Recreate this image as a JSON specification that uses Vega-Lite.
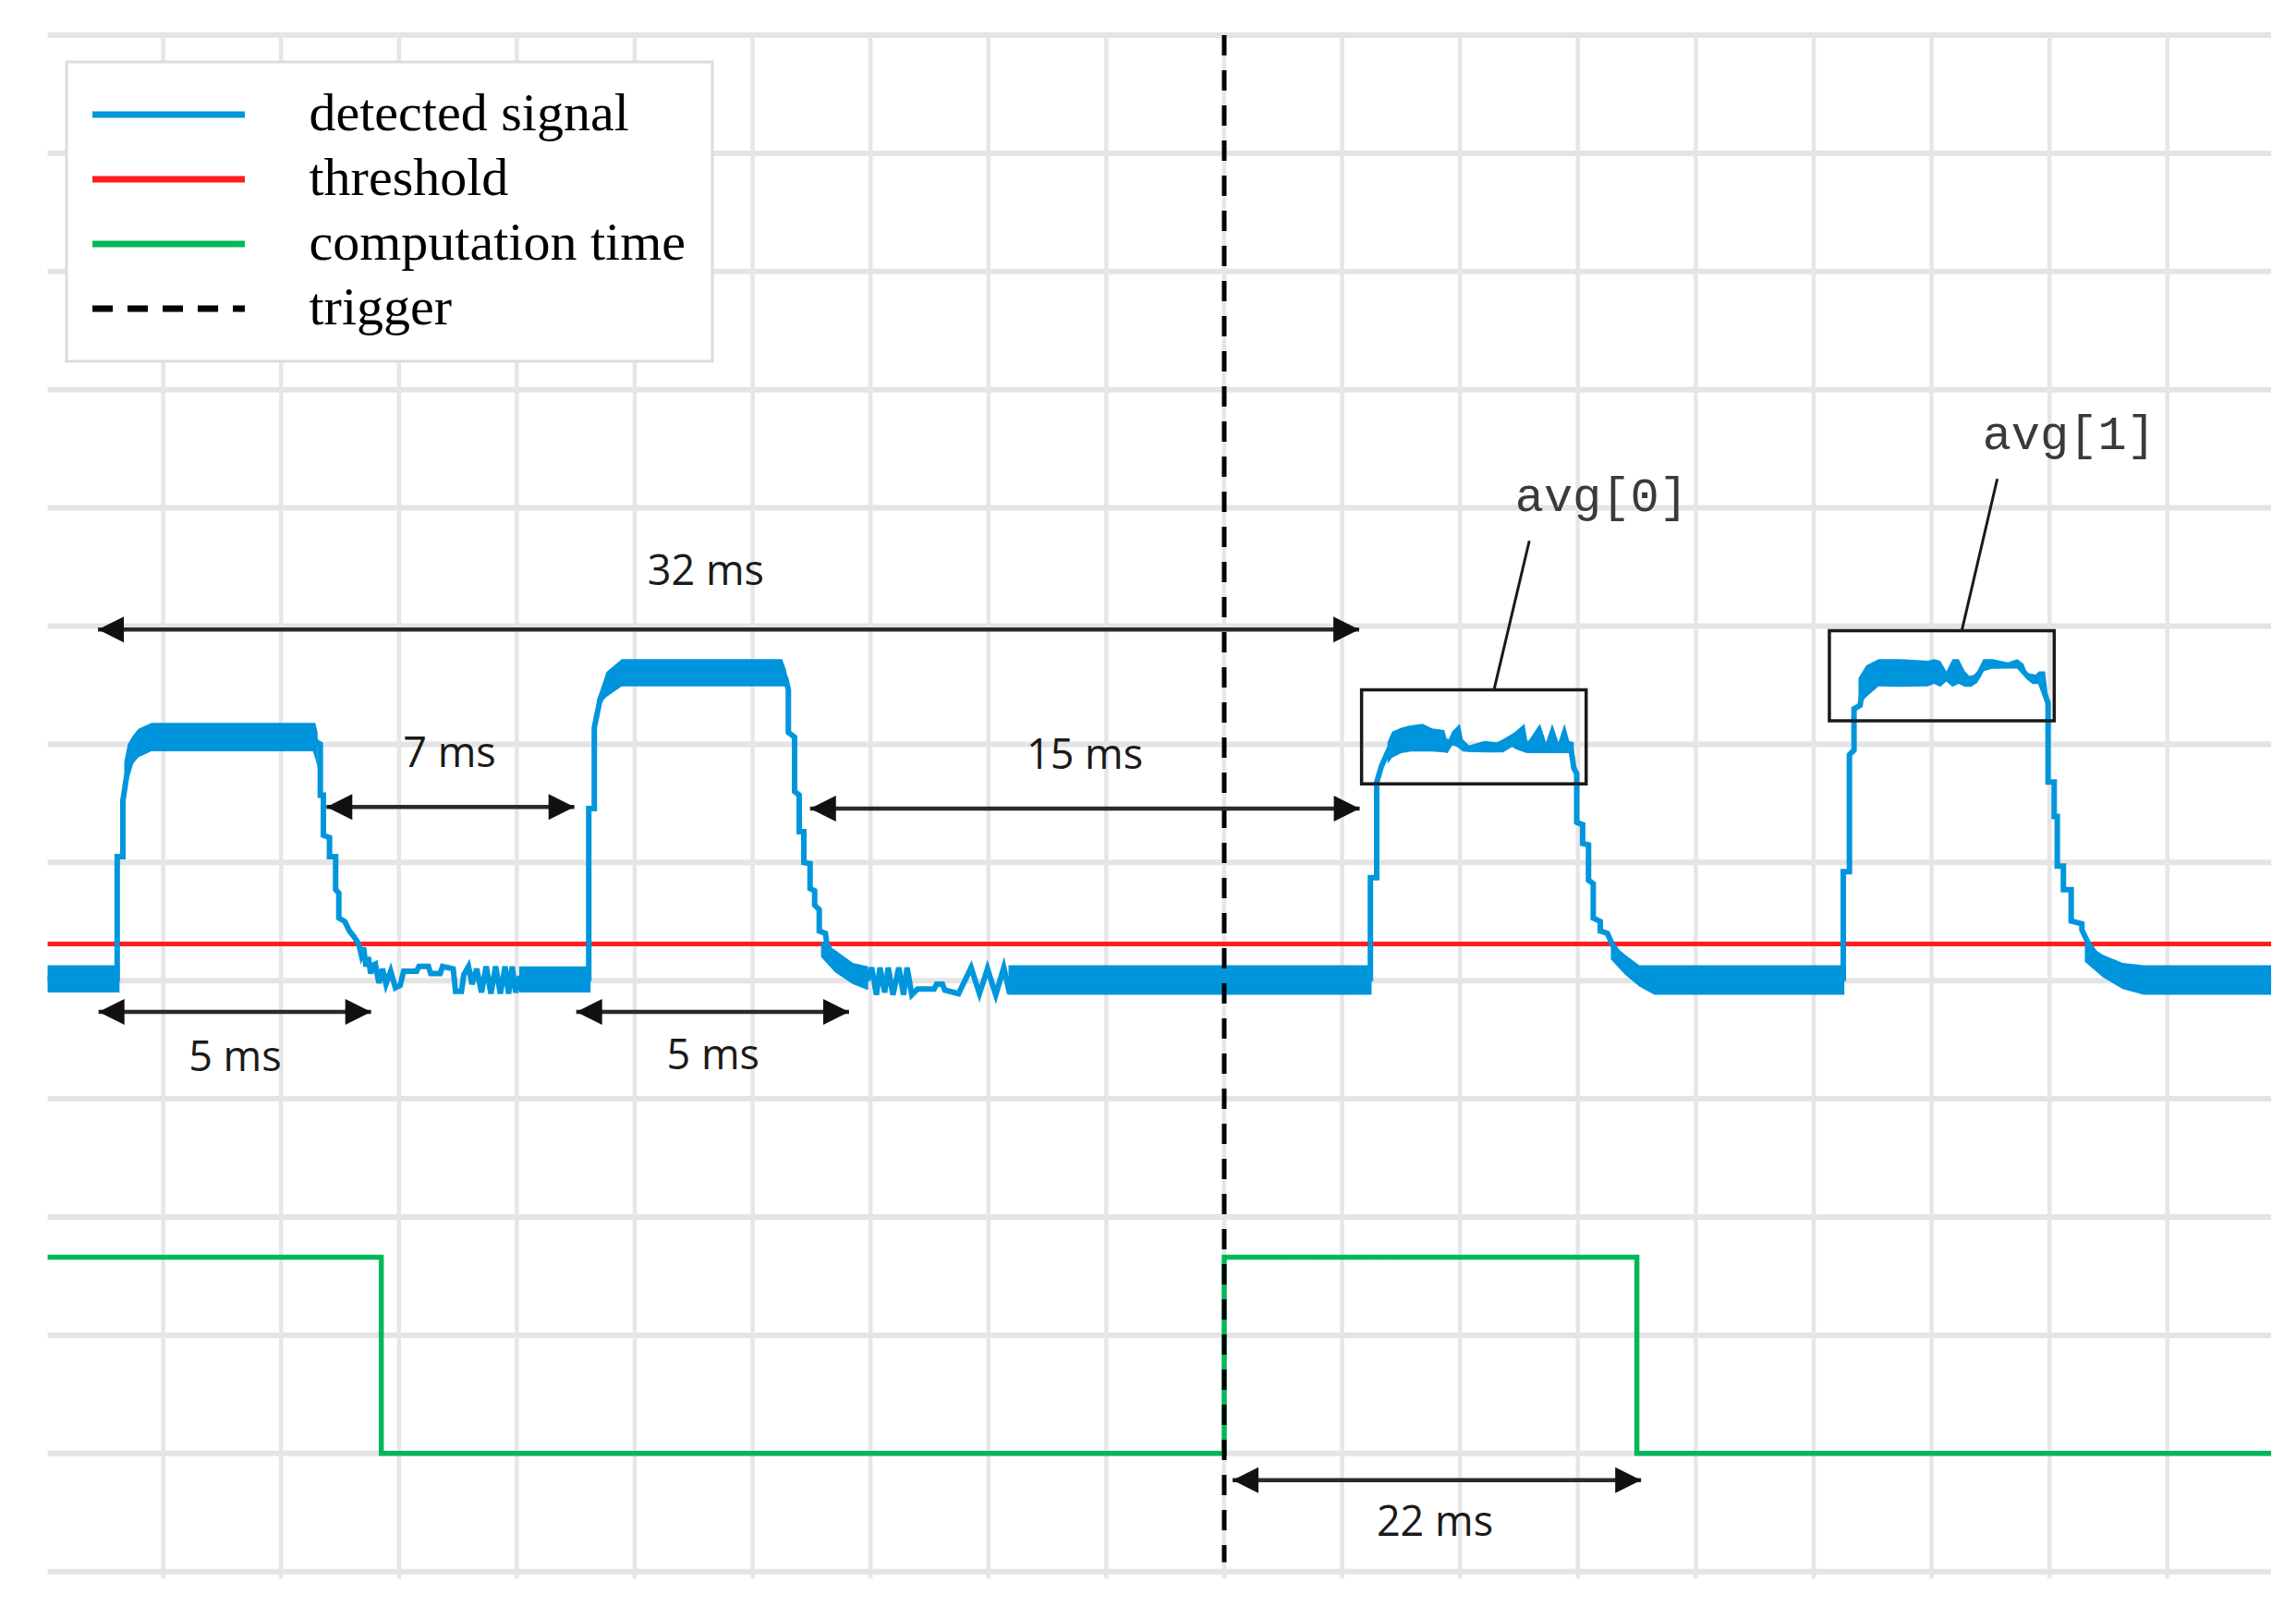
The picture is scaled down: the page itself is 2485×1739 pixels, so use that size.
{
  "$schema": "https://vega.github.io/schema/vega-lite/v6.json",
  "width": 2485,
  "height": 1739,
  "padding": 0,
  "autosize": {"type": "none"},
  "background": "#ffffff",
  "config": {
    "view": {"stroke": null},
    "legend": {
      "orient": "none", "legendX": 72, "legendY": 67, "padding": 28,
      "strokeColor": "#dcdcdc", "strokeWidth": 3, "fillColor": "#ffffff",
      "symbolType": "M-10,0H10", "symbolSize": 272, "symbolStrokeWidth": 7, "symbolOffset": 53.5,
      "labelOffset": 123, "labelFont": "Liberation Serif", "labelFontSize": 58, "labelColor": "#000000",
      "labelLimit": 1000, "rowPadding": 12, "direction": "vertical"
    }
  },
  "datasets": {
    "hgrid": [
      {"t": -0.98, "t2": 17.88, "v": 0}, {"t": -0.98, "t2": 17.88, "v": 1}, {"t": -0.98, "t2": 17.88, "v": 2},
      {"t": -0.98, "t2": 17.88, "v": 3}, {"t": -0.98, "t2": 17.88, "v": 4}, {"t": -0.98, "t2": 17.88, "v": 5},
      {"t": -0.98, "t2": 17.88, "v": 6}, {"t": -0.98, "t2": 17.88, "v": 7}, {"t": -0.98, "t2": 17.88, "v": 8},
      {"t": -0.98, "t2": 17.88, "v": 9}, {"t": -0.98, "t2": 17.88, "v": 10}, {"t": -0.98, "t2": 17.88, "v": 11},
      {"t": -0.98, "t2": 17.88, "v": 12}, {"t": -0.98, "t2": 17.88, "v": 13}
    ],
    "vgrid": [
      {"t": 0, "v": -0.06, "v2": 13}, {"t": 1, "v": -0.06, "v2": 13}, {"t": 2, "v": -0.06, "v2": 13},
      {"t": 3, "v": -0.06, "v2": 13}, {"t": 4, "v": -0.06, "v2": 13}, {"t": 5, "v": -0.06, "v2": 13},
      {"t": 6, "v": -0.06, "v2": 13}, {"t": 7, "v": -0.06, "v2": 13}, {"t": 8, "v": -0.06, "v2": 13},
      {"t": 9, "v": -0.06, "v2": 13}, {"t": 10, "v": -0.06, "v2": 13}, {"t": 11, "v": -0.06, "v2": 13},
      {"t": 12, "v": -0.06, "v2": 13}, {"t": 13, "v": -0.06, "v2": 13}, {"t": 14, "v": -0.06, "v2": 13},
      {"t": 15, "v": -0.06, "v2": 13}, {"t": 16, "v": -0.06, "v2": 13}, {"t": 17, "v": -0.06, "v2": 13}
    ],
    "threshold": [{"t": -0.98, "t2": 17.88, "v": 5.31}],
    "bands": [
      {"b": 1, "t": -0.98, "v": 5.13, "v2": 4.9}, {"b": 1, "t": -0.37, "v": 5.13, "v2": 4.9},
      {"b": 2, "t": -0.33, "v": 6.85, "v2": 6.55}, {"b": 2, "t": -0.3, "v": 7.0, "v2": 6.76},
      {"b": 2, "t": -0.26, "v": 7.07, "v2": 6.83}, {"b": 2, "t": -0.21, "v": 7.13, "v2": 6.89},
      {"b": 2, "t": -0.1, "v": 7.18, "v2": 6.94}, {"b": 2, "t": 1.27, "v": 7.18, "v2": 6.94},
      {"b": 2, "t": 1.29, "v": 7.18, "v2": 6.88}, {"b": 2, "t": 1.31, "v": 7.1, "v2": 6.8},
      {"b": 3, "t": 3.02, "v": 5.12, "v2": 4.9}, {"b": 3, "t": 3.625, "v": 5.12, "v2": 4.9},
      {"b": 4, "t": 3.68, "v": 7.38, "v2": 7.17}, {"b": 4, "t": 3.71, "v": 7.46, "v2": 7.35},
      {"b": 4, "t": 3.76, "v": 7.61, "v2": 7.4}, {"b": 4, "t": 3.89, "v": 7.72, "v2": 7.49},
      {"b": 4, "t": 5.25, "v": 7.72, "v2": 7.49}, {"b": 4, "t": 5.28, "v": 7.64, "v2": 7.49},
      {"b": 4, "t": 5.3, "v": 7.55, "v2": 7.46},
      {"b": 5, "t": 5.58, "v": 5.33, "v2": 5.2}, {"b": 5, "t": 5.7, "v": 5.26, "v2": 5.07},
      {"b": 5, "t": 5.85, "v": 5.15, "v2": 4.97}, {"b": 5, "t": 5.98, "v": 5.12, "v2": 4.92},
      {"b": 6, "t": 7.17, "v": 5.13, "v2": 4.88}, {"b": 6, "t": 10.25, "v": 5.13, "v2": 4.88},
      {"b": 7, "t": 10.385, "v": 7.016, "v2": 6.834}, {"b": 7, "t": 10.424, "v": 7.107, "v2": 6.886},
      {"b": 7, "t": 10.502, "v": 7.14, "v2": 6.925}, {"b": 7, "t": 10.58, "v": 7.16, "v2": 6.938},
      {"b": 7, "t": 10.685, "v": 7.173, "v2": 6.938}, {"b": 7, "t": 10.763, "v": 7.134, "v2": 6.938},
      {"b": 7, "t": 10.867, "v": 7.12, "v2": 6.93}, {"b": 7, "t": 10.894, "v": 7.016, "v2": 6.925},
      {"b": 7, "t": 10.933, "v": 7.107, "v2": 6.99}, {"b": 7, "t": 10.946, "v": 7.12, "v2": 7.0},
      {"b": 7, "t": 10.998, "v": 7.173, "v2": 6.96}, {"b": 7, "t": 11.024, "v": 7.042, "v2": 6.938},
      {"b": 7, "t": 11.077, "v": 6.99, "v2": 6.935}, {"b": 7, "t": 11.208, "v": 7.029, "v2": 6.93},
      {"b": 7, "t": 11.312, "v": 7.016, "v2": 6.93}, {"b": 7, "t": 11.364, "v": 7.042, "v2": 6.93},
      {"b": 7, "t": 11.443, "v": 7.09, "v2": 6.977}, {"b": 7, "t": 11.469, "v": 7.107, "v2": 6.96},
      {"b": 7, "t": 11.547, "v": 7.173, "v2": 6.93}, {"b": 7, "t": 11.573, "v": 7.016, "v2": 6.925},
      {"b": 7, "t": 11.678, "v": 7.173, "v2": 6.925}, {"b": 7, "t": 11.73, "v": 7.016, "v2": 6.925},
      {"b": 7, "t": 11.782, "v": 7.173, "v2": 6.925}, {"b": 7, "t": 11.835, "v": 7.016, "v2": 6.925},
      {"b": 7, "t": 11.886, "v": 7.173, "v2": 6.925}, {"b": 7, "t": 11.926, "v": 7.029, "v2": 6.925},
      {"b": 7, "t": 11.965, "v": 7.016, "v2": 6.78},
      {"b": 8, "t": 12.28, "v": 5.32, "v2": 5.18}, {"b": 8, "t": 12.4, "v": 5.22, "v2": 5.05},
      {"b": 8, "t": 12.52, "v": 5.13, "v2": 4.95}, {"b": 8, "t": 12.65, "v": 5.13, "v2": 4.88},
      {"b": 8, "t": 14.26, "v": 5.13, "v2": 4.88},
      {"b": 9, "t": 14.38, "v": 7.56, "v2": 7.33}, {"b": 9, "t": 14.446, "v": 7.668, "v2": 7.4},
      {"b": 9, "t": 14.55, "v": 7.72, "v2": 7.49}, {"b": 9, "t": 14.734, "v": 7.72, "v2": 7.486},
      {"b": 9, "t": 14.969, "v": 7.707, "v2": 7.49}, {"b": 9, "t": 15.021, "v": 7.72, "v2": 7.512},
      {"b": 9, "t": 15.073, "v": 7.707, "v2": 7.486}, {"b": 9, "t": 15.126, "v": 7.616, "v2": 7.53},
      {"b": 9, "t": 15.178, "v": 7.72, "v2": 7.486}, {"b": 9, "t": 15.23, "v": 7.72, "v2": 7.512},
      {"b": 9, "t": 15.283, "v": 7.616, "v2": 7.486}, {"b": 9, "t": 15.334, "v": 7.564, "v2": 7.486},
      {"b": 9, "t": 15.387, "v": 7.616, "v2": 7.52}, {"b": 9, "t": 15.439, "v": 7.72, "v2": 7.616},
      {"b": 9, "t": 15.518, "v": 7.72, "v2": 7.64}, {"b": 9, "t": 15.648, "v": 7.694, "v2": 7.64},
      {"b": 9, "t": 15.727, "v": 7.72, "v2": 7.64}, {"b": 9, "t": 15.779, "v": 7.681, "v2": 7.6},
      {"b": 9, "t": 15.805, "v": 7.616, "v2": 7.55}, {"b": 9, "t": 15.857, "v": 7.564, "v2": 7.51},
      {"b": 9, "t": 15.91, "v": 7.616, "v2": 7.51}, {"b": 9, "t": 15.962, "v": 7.616, "v2": 7.36},
      {"b": 9, "t": 15.988, "v": 7.4, "v2": 7.28},
      {"b": 10, "t": 16.3, "v": 5.32, "v2": 5.16}, {"b": 10, "t": 16.45, "v": 5.22, "v2": 5.03},
      {"b": 10, "t": 16.62, "v": 5.15, "v2": 4.93}, {"b": 10, "t": 16.8, "v": 5.13, "v2": 4.88},
      {"b": 10, "t": 17.88, "v": 5.13, "v2": 4.88}
    ],
    "signal": [
      {"t": -0.98, "v": 5.02}, {"t": -0.39, "v": 5.02}, {"t": -0.39, "v": 6.05}, {"t": -0.342, "v": 6.05},
      {"t": -0.342, "v": 6.52}, {"t": -0.31, "v": 6.73}, {"t": -0.26, "v": 6.9}, {"t": -0.21, "v": 6.99},
      {"t": -0.1, "v": 7.06}, {"t": 1.27, "v": 7.06}, {"t": 1.3, "v": 7.02}, {"t": 1.333, "v": 7.0},
      {"t": 1.333, "v": 6.57}, {"t": 1.359, "v": 6.57}, {"t": 1.359, "v": 6.23}, {"t": 1.411, "v": 6.21},
      {"t": 1.411, "v": 6.05}, {"t": 1.463, "v": 6.05}, {"t": 1.463, "v": 5.77}, {"t": 1.49, "v": 5.74},
      {"t": 1.49, "v": 5.53}, {"t": 1.541, "v": 5.5}, {"t": 1.58, "v": 5.42}, {"t": 1.62, "v": 5.37},
      {"t": 1.659, "v": 5.31}, {"t": 1.68, "v": 5.22}, {"t": 1.7, "v": 5.28}, {"t": 1.72, "v": 5.12},
      {"t": 1.74, "v": 5.2}, {"t": 1.76, "v": 5.06}, {"t": 1.78, "v": 5.13}, {"t": 1.8, "v": 5.14},
      {"t": 1.83, "v": 4.98}, {"t": 1.86, "v": 5.1}, {"t": 1.89, "v": 4.97}, {"t": 1.93, "v": 5.08},
      {"t": 1.97, "v": 4.94}, {"t": 2.01, "v": 4.96}, {"t": 2.04, "v": 5.08}, {"t": 2.15, "v": 5.08},
      {"t": 2.17, "v": 5.12}, {"t": 2.25, "v": 5.12}, {"t": 2.27, "v": 5.06}, {"t": 2.35, "v": 5.06},
      {"t": 2.37, "v": 5.12}, {"t": 2.46, "v": 5.1}, {"t": 2.48, "v": 4.91}, {"t": 2.53, "v": 4.91},
      {"t": 2.55, "v": 5.05}, {"t": 2.59, "v": 5.12}, {"t": 2.62, "v": 4.97}, {"t": 2.66, "v": 5.1},
      {"t": 2.7, "v": 4.9}, {"t": 2.74, "v": 5.12}, {"t": 2.78, "v": 4.89}, {"t": 2.82, "v": 5.12},
      {"t": 2.86, "v": 4.89}, {"t": 2.9, "v": 5.12}, {"t": 2.93, "v": 4.89}, {"t": 2.96, "v": 5.12},
      {"t": 2.99, "v": 4.9}, {"t": 3.02, "v": 5.02},
      {"t": 3.61, "v": 5.02}, {"t": 3.61, "v": 6.456}, {"t": 3.657, "v": 6.456}, {"t": 3.657, "v": 7.14},
      {"t": 3.7, "v": 7.35}, {"t": 3.76, "v": 7.51}, {"t": 3.89, "v": 7.6}, {"t": 5.25, "v": 7.6},
      {"t": 5.28, "v": 7.56}, {"t": 5.303, "v": 7.46}, {"t": 5.303, "v": 7.1}, {"t": 5.356, "v": 7.06},
      {"t": 5.356, "v": 6.6}, {"t": 5.395, "v": 6.57}, {"t": 5.395, "v": 6.26}, {"t": 5.434, "v": 6.26},
      {"t": 5.434, "v": 6.0}, {"t": 5.487, "v": 5.99}, {"t": 5.487, "v": 5.78}, {"t": 5.526, "v": 5.76},
      {"t": 5.526, "v": 5.64}, {"t": 5.565, "v": 5.6}, {"t": 5.565, "v": 5.42}, {"t": 5.617, "v": 5.4},
      {"t": 5.63, "v": 5.31}, {"t": 5.7, "v": 5.17}, {"t": 5.85, "v": 5.06}, {"t": 5.98, "v": 5.02},
      {"t": 6.01, "v": 5.11}, {"t": 6.05, "v": 4.88}, {"t": 6.08, "v": 5.11}, {"t": 6.12, "v": 4.9},
      {"t": 6.15, "v": 5.11}, {"t": 6.19, "v": 4.88}, {"t": 6.24, "v": 5.11}, {"t": 6.28, "v": 4.88},
      {"t": 6.31, "v": 5.11}, {"t": 6.35, "v": 4.88}, {"t": 6.4, "v": 4.93}, {"t": 6.54, "v": 4.93},
      {"t": 6.56, "v": 4.97}, {"t": 6.61, "v": 4.97}, {"t": 6.63, "v": 4.92}, {"t": 6.747, "v": 4.89},
      {"t": 6.8, "v": 5.0}, {"t": 6.853, "v": 5.11}, {"t": 6.924, "v": 4.89}, {"t": 6.992, "v": 5.1},
      {"t": 7.062, "v": 4.88}, {"t": 7.13, "v": 5.11}, {"t": 7.18, "v": 4.89}, {"t": 7.21, "v": 5.02},
      {"t": 10.24, "v": 5.02}, {"t": 10.24, "v": 5.872}, {"t": 10.293, "v": 5.872}, {"t": 10.293, "v": 6.677},
      {"t": 10.332, "v": 6.81}, {"t": 10.385, "v": 6.93}, {"t": 10.42, "v": 7.0}, {"t": 10.58, "v": 7.04},
      {"t": 10.86, "v": 7.03}, {"t": 11.0, "v": 7.0}, {"t": 11.08, "v": 6.96}, {"t": 11.3, "v": 6.97},
      {"t": 11.45, "v": 7.02}, {"t": 11.94, "v": 6.97}, {"t": 11.965, "v": 6.8}, {"t": 11.99, "v": 6.75},
      {"t": 11.99, "v": 6.34}, {"t": 12.04, "v": 6.32}, {"t": 12.04, "v": 6.16}, {"t": 12.09, "v": 6.15},
      {"t": 12.09, "v": 5.85}, {"t": 12.13, "v": 5.82}, {"t": 12.13, "v": 5.53}, {"t": 12.19, "v": 5.5},
      {"t": 12.19, "v": 5.42}, {"t": 12.25, "v": 5.4}, {"t": 12.29, "v": 5.31}, {"t": 12.4, "v": 5.14},
      {"t": 12.52, "v": 5.04}, {"t": 12.65, "v": 5.02},
      {"t": 14.251, "v": 5.02}, {"t": 14.251, "v": 5.922}, {"t": 14.303, "v": 5.922}, {"t": 14.303, "v": 6.912},
      {"t": 14.342, "v": 6.95}, {"t": 14.342, "v": 7.3}, {"t": 14.394, "v": 7.33}, {"t": 14.42, "v": 7.5},
      {"t": 14.55, "v": 7.6}, {"t": 15.3, "v": 7.55}, {"t": 15.39, "v": 7.57}, {"t": 15.44, "v": 7.66},
      {"t": 15.73, "v": 7.67}, {"t": 15.81, "v": 7.58}, {"t": 15.91, "v": 7.56}, {"t": 15.988, "v": 7.35},
      {"t": 15.988, "v": 6.68}, {"t": 16.04, "v": 6.68}, {"t": 16.04, "v": 6.39}, {"t": 16.066, "v": 6.39},
      {"t": 16.066, "v": 5.97}, {"t": 16.118, "v": 5.97}, {"t": 16.118, "v": 5.77}, {"t": 16.184, "v": 5.77},
      {"t": 16.184, "v": 5.505}, {"t": 16.275, "v": 5.48}, {"t": 16.275, "v": 5.43}, {"t": 16.327, "v": 5.32},
      {"t": 16.45, "v": 5.14}, {"t": 16.62, "v": 5.04}, {"t": 16.8, "v": 5.02}, {"t": 17.88, "v": 5.02}
    ],
    "compute": [
      {"t": -0.98, "v": 2.66}, {"t": 1.85, "v": 2.66}, {"t": 1.85, "v": 1.0}, {"t": 9.0, "v": 1.0},
      {"t": 9.0, "v": 2.66}, {"t": 12.5, "v": 2.66}, {"t": 12.5, "v": 1.0}, {"t": 17.88, "v": 1.0}
    ],
    "trigger": [{"t": 9.0, "v": 13.0, "v2": 0.08}],
    "boxes": [
      {"t": 10.165, "t2": 12.07, "v": 7.46, "v2": 6.664},
      {"t": 14.133, "t2": 16.04, "v": 7.96, "v2": 7.199}
    ],
    "leaders": [
      {"t": 11.588, "v": 8.721, "t2": 11.288, "v2": 7.46},
      {"t": 15.557, "v": 9.245, "t2": 15.256, "v2": 7.96}
    ],
    "arrows": [
      {"t": -0.553, "t2": 10.145, "v": 7.97},
      {"t": 1.385, "t2": 3.488, "v": 6.47},
      {"t": 5.487, "t2": 10.149, "v": 6.456},
      {"t": -0.548, "t2": 1.764, "v": 4.736},
      {"t": 3.504, "t2": 5.818, "v": 4.736},
      {"t": 9.071, "t2": 12.536, "v": 0.774}
    ],
    "heads": [
      {"t": -0.553, "v": 7.97, "dir": "l"}, {"t": 10.145, "v": 7.97, "dir": "r"},
      {"t": 1.385, "v": 6.47, "dir": "l"}, {"t": 3.488, "v": 6.47, "dir": "r"},
      {"t": 5.487, "v": 6.456, "dir": "l"}, {"t": 10.149, "v": 6.456, "dir": "r"},
      {"t": -0.548, "v": 4.736, "dir": "l"}, {"t": 1.764, "v": 4.736, "dir": "r"},
      {"t": 3.504, "v": 4.736, "dir": "l"}, {"t": 5.818, "v": 4.736, "dir": "r"},
      {"t": 9.071, "v": 0.774, "dir": "l"}, {"t": 12.536, "v": 0.774, "dir": "r"}
    ],
    "mslabels": [
      {"t": 4.603, "v": 8.46, "label": "32 ms"},
      {"t": 2.429, "v": 6.917, "label": "7 ms"},
      {"t": 7.817, "v": 6.903, "label": "15 ms"},
      {"t": 0.61, "v": 4.344, "label": "5 ms"},
      {"t": 4.664, "v": 4.357, "label": "5 ms"},
      {"t": 10.787, "v": 0.412, "label": "22 ms"}
    ],
    "avglabels": [
      {"t": 12.2, "v": 9.1, "label": "avg[0]"},
      {"t": 16.165, "v": 9.62, "label": "avg[1]"}
    ]
  },
  "encoding": {
    "x": {"field": "t", "type": "quantitative", "scale": {"domain": [-1.384, 18.091], "nice": false, "zero": false}, "axis": null},
    "y": {"field": "v", "type": "quantitative", "scale": {"domain": [-0.2995, 13.297], "nice": false, "zero": false}, "axis": null, "stack": null}
  },
  "layer": [
    {
      "data": {"name": "hgrid"},
      "mark": {"type": "rule", "color": "#e4e4e4", "strokeWidth": 6},
      "encoding": {"x2": {"field": "t2"}}
    },
    {
      "data": {"name": "vgrid"},
      "mark": {"type": "rule", "color": "#e6e6e6", "strokeWidth": 4.5},
      "encoding": {"y2": {"field": "v2"}}
    },
    {
      "data": {"name": "threshold"},
      "mark": {"type": "rule", "strokeWidth": 5},
      "encoding": {
        "x2": {"field": "t2"},
        "color": {"datum": "threshold", "type": "nominal",
          "scale": {"domain": ["detected signal", "threshold", "computation time", "trigger"], "range": ["#0096dc", "#ff1c1c", "#00b85a", "#000000"]},
          "legend": {"title": null, "orient": "none", "legendX": 72, "legendY": 67, "symbolType": "M-10,0H10", "symbolSize": 272, "symbolStrokeWidth": 7, "symbolOffset": 53.5, "labelOffset": 123}},
        "strokeDash": {"datum": "threshold", "type": "nominal",
          "scale": {"domain": ["detected signal", "threshold", "computation time", "trigger"], "range": [[1, 0], [1, 0], [1, 0], [22, 16]]},
          "legend": {"title": null}}
      }
    },
    {
      "data": {"name": "bands"},
      "mark": {"type": "area", "color": "#0094dc"},
      "encoding": {"y2": {"field": "v2"}, "detail": {"field": "b", "type": "nominal"}, "order": {"value": null}}
    },
    {
      "data": {"name": "signal"},
      "mark": {"type": "line", "strokeWidth": 6},
      "encoding": {
        "order": {"value": null},
        "color": {"datum": "detected signal", "type": "nominal",
          "scale": {"domain": ["detected signal", "threshold", "computation time", "trigger"], "range": ["#0096dc", "#ff1c1c", "#00b85a", "#000000"]},
          "legend": {"title": null}},
        "strokeDash": {"datum": "detected signal", "type": "nominal",
          "scale": {"domain": ["detected signal", "threshold", "computation time", "trigger"], "range": [[1, 0], [1, 0], [1, 0], [22, 16]]},
          "legend": {"title": null}}
      }
    },
    {
      "data": {"name": "compute"},
      "mark": {"type": "line", "strokeWidth": 5.5},
      "encoding": {
        "order": {"value": null},
        "color": {"datum": "computation time", "type": "nominal",
          "scale": {"domain": ["detected signal", "threshold", "computation time", "trigger"], "range": ["#0096dc", "#ff1c1c", "#00b85a", "#000000"]},
          "legend": {"title": null}},
        "strokeDash": {"datum": "computation time", "type": "nominal",
          "scale": {"domain": ["detected signal", "threshold", "computation time", "trigger"], "range": [[1, 0], [1, 0], [1, 0], [22, 16]]},
          "legend": {"title": null}}
      }
    },
    {
      "data": {"name": "trigger"},
      "mark": {"type": "rule", "strokeWidth": 5},
      "encoding": {
        "y2": {"field": "v2"},
        "color": {"datum": "trigger", "type": "nominal",
          "scale": {"domain": ["detected signal", "threshold", "computation time", "trigger"], "range": ["#0096dc", "#ff1c1c", "#00b85a", "#000000"]},
          "legend": {"title": null}},
        "strokeDash": {"datum": "trigger", "type": "nominal",
          "scale": {"domain": ["detected signal", "threshold", "computation time", "trigger"], "range": [[1, 0], [1, 0], [1, 0], [22, 16]]},
          "legend": {"title": null}}
      }
    },
    {
      "data": {"name": "boxes"},
      "mark": {"type": "rect", "filled": false, "color": "#1a1a1a", "strokeWidth": 3.5},
      "encoding": {"x2": {"field": "t2"}, "y2": {"field": "v2"}}
    },
    {
      "data": {"name": "leaders"},
      "mark": {"type": "rule", "color": "#1a1a1a", "strokeWidth": 3},
      "encoding": {"x2": {"field": "t2"}, "y2": {"field": "v2"}}
    },
    {
      "data": {"name": "arrows"},
      "mark": {"type": "rule", "color": "#2a2a2a", "strokeWidth": 4.5},
      "encoding": {"x2": {"field": "t2"}}
    },
    {
      "data": {"name": "heads"},
      "mark": {"type": "point", "filled": true, "opacity": 1, "size": 784, "color": "#111111", "strokeWidth": 0},
      "encoding": {
        "shape": {"field": "dir", "type": "nominal", "scale": {"domain": ["l", "r"], "range": ["M0,0L2,-1L2,1Z", "M0,0L-2,-1L-2,1Z"]}, "legend": null}
      }
    },
    {
      "data": {"name": "mslabels"},
      "mark": {"type": "text", "font": "Open Sans", "fontSize": 45, "color": "#1a1a1a", "align": "center", "baseline": "middle"},
      "encoding": {"text": {"field": "label"}}
    },
    {
      "data": {"name": "avglabels"},
      "mark": {"type": "text", "font": "Liberation Mono", "fontSize": 52, "color": "#3a3a3a", "align": "center", "baseline": "middle"},
      "encoding": {"text": {"field": "label"}}
    }
  ]
}
